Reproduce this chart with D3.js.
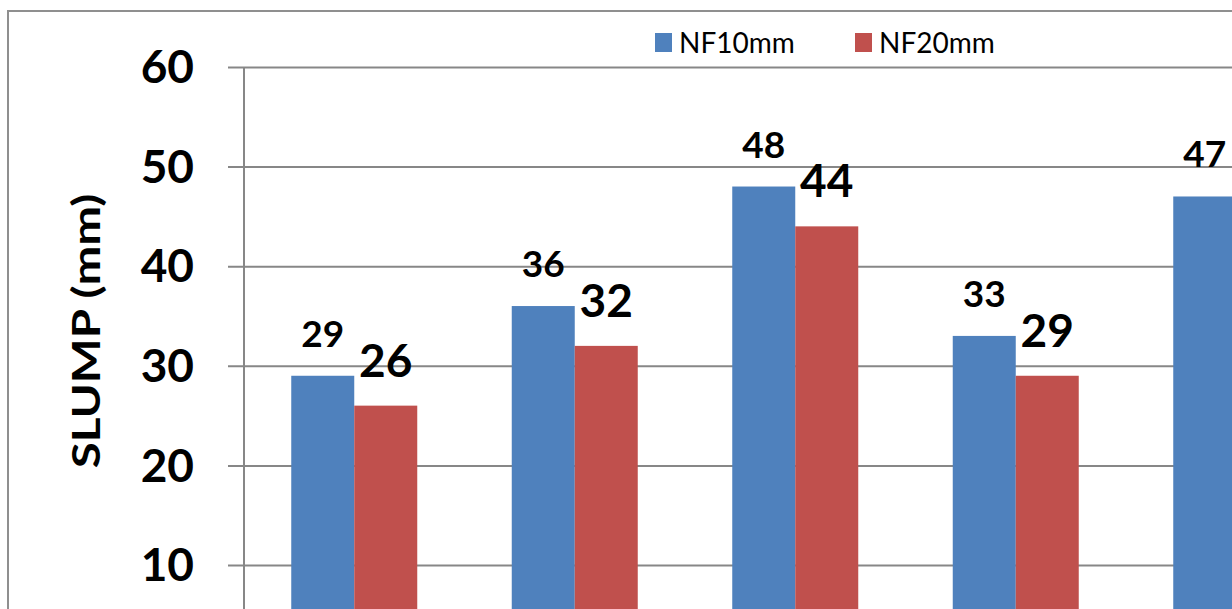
<!DOCTYPE html>
<html>
<head>
<meta charset="utf-8">
<script src="https://cdn.jsdelivr.net/npm/d3@7"></script>
<style>
  html, body { margin: 0; padding: 0; background: #ffffff; }
  svg { display: block; }
</style>
</head>
<body>
<svg id="chart" width="1232" height="609"></svg>
<script>
// Slump test results for the two fibre lengths
const categories = ["1", "2", "3", "4", "5"];
const seriesNames = ["NF10mm", "NF20mm"];
const nf10 = [29, 36, 48, 33, 47];
const nf20 = [26, 32, 44, 29, null];
const yTicks = [10, 20, 30, 40, 50, 60];
const yTitle = "SLUMP (mm)";

const colors = { "NF10mm": "#4F81BD", "NF20mm": "#C0504D" };
const gridColor = "#878787";
const font = "Lato, 'Open Sans', sans-serif";

const svg = d3.select("#chart");

// Plot geometry
const axisX = 244;
const step = 220.5;
const yTop = 67;
const yZero = 664.6;

const x0 = d3.scaleBand()
  .domain(categories)
  .range([axisX, axisX + step * categories.length])
  .paddingInner(1.5 / 3.5)
  .paddingOuter(0.75 / 3.5);

const x1 = d3.scaleBand()
  .domain(seriesNames)
  .range([0, x0.bandwidth()]);

const y = d3.scaleLinear().domain([0, 60]).range([yZero, yTop]);

// Outer chart frame
svg.append("rect")
  .attr("x", 8).attr("y", 11)
  .attr("width", 1400).attr("height", 800)
  .attr("fill", "none")
  .attr("stroke", "#8f8f8f")
  .attr("stroke-width", 2);

// Horizontal gridlines with tick extensions
const yAxis = d3.axisLeft(y)
  .tickValues(yTicks)
  .tickSize(-(1400))
  .tickSizeOuter(0)
  .tickPadding(34)
  .tickFormat(d3.format("d"));

const gAxis = svg.append("g")
  .attr("transform", `translate(${axisX - 16},0)`)
  .call(yAxis);
gAxis.select(".domain").remove();
gAxis.selectAll(".tick line")
  .attr("stroke", gridColor)
  .attr("stroke-width", 2);
gAxis.selectAll(".tick text")
  .attr("font-family", font)
  .attr("font-weight", "bold")
  .attr("font-size", 46)
  .attr("fill", "#000")
  .attr("dy", "0.34em");

// Vertical axis line
svg.append("line")
  .attr("x1", axisX).attr("x2", axisX)
  .attr("y1", yTop).attr("y2", yZero)
  .attr("stroke", gridColor)
  .attr("stroke-width", 2);

// Bars
const rows = categories.map((c, i) => ({
  cat: c,
  values: [
    { key: "NF10mm", value: nf10[i] },
    { key: "NF20mm", value: nf20[i] }
  ].filter(d => d.value != null)
}));

const groups = svg.append("g").selectAll("g")
  .data(rows)
  .join("g")
  .attr("transform", d => `translate(${x0(d.cat)},0)`);

groups.selectAll("rect")
  .data(d => d.values)
  .join("rect")
  .attr("x", d => x1(d.key))
  .attr("y", d => y(d.value))
  .attr("width", x1.bandwidth())
  .attr("height", d => yZero - y(d.value))
  .attr("fill", d => colors[d.key]);

// Value labels above each bar
groups.selectAll("text")
  .data(d => d.values)
  .join("text")
  .attr("x", d => x1(d.key) + x1.bandwidth() / 2)
  .attr("y", d => y(d.value) - 29)
  .attr("text-anchor", "middle")
  .attr("font-family", font)
  .attr("font-weight", "bold")
  .attr("font-size", d => d.key === "NF10mm" ? 37 : 46)
  .attr("fill", "#000")
  .text(d => d.value);

// Y axis title (slightly widened glyphs)
svg.append("text")
  .attr("transform", "translate(100,331) rotate(-90) scale(1.22,1)")
  .attr("text-anchor", "middle")
  .attr("font-family", font)
  .attr("font-weight", "bold")
  .attr("font-size", 39)
  .attr("fill", "#000")
  .text(yTitle);

// Legend
const legendItems = [
  { key: "NF10mm", x: 655 },
  { key: "NF20mm", x: 855 }
];
const legend = svg.append("g").selectAll("g")
  .data(legendItems)
  .join("g")
  .attr("transform", d => `translate(${d.x},33)`);
legend.append("rect")
  .attr("width", 17).attr("height", 19)
  .attr("fill", d => colors[d.key]);
legend.append("text")
  .attr("x", 24)
  .attr("y", 20)
  .attr("font-family", font)
  .attr("font-size", 28)
  .attr("fill", "#000")
  .text(d => d.key);
</script>
</body>
</html>
